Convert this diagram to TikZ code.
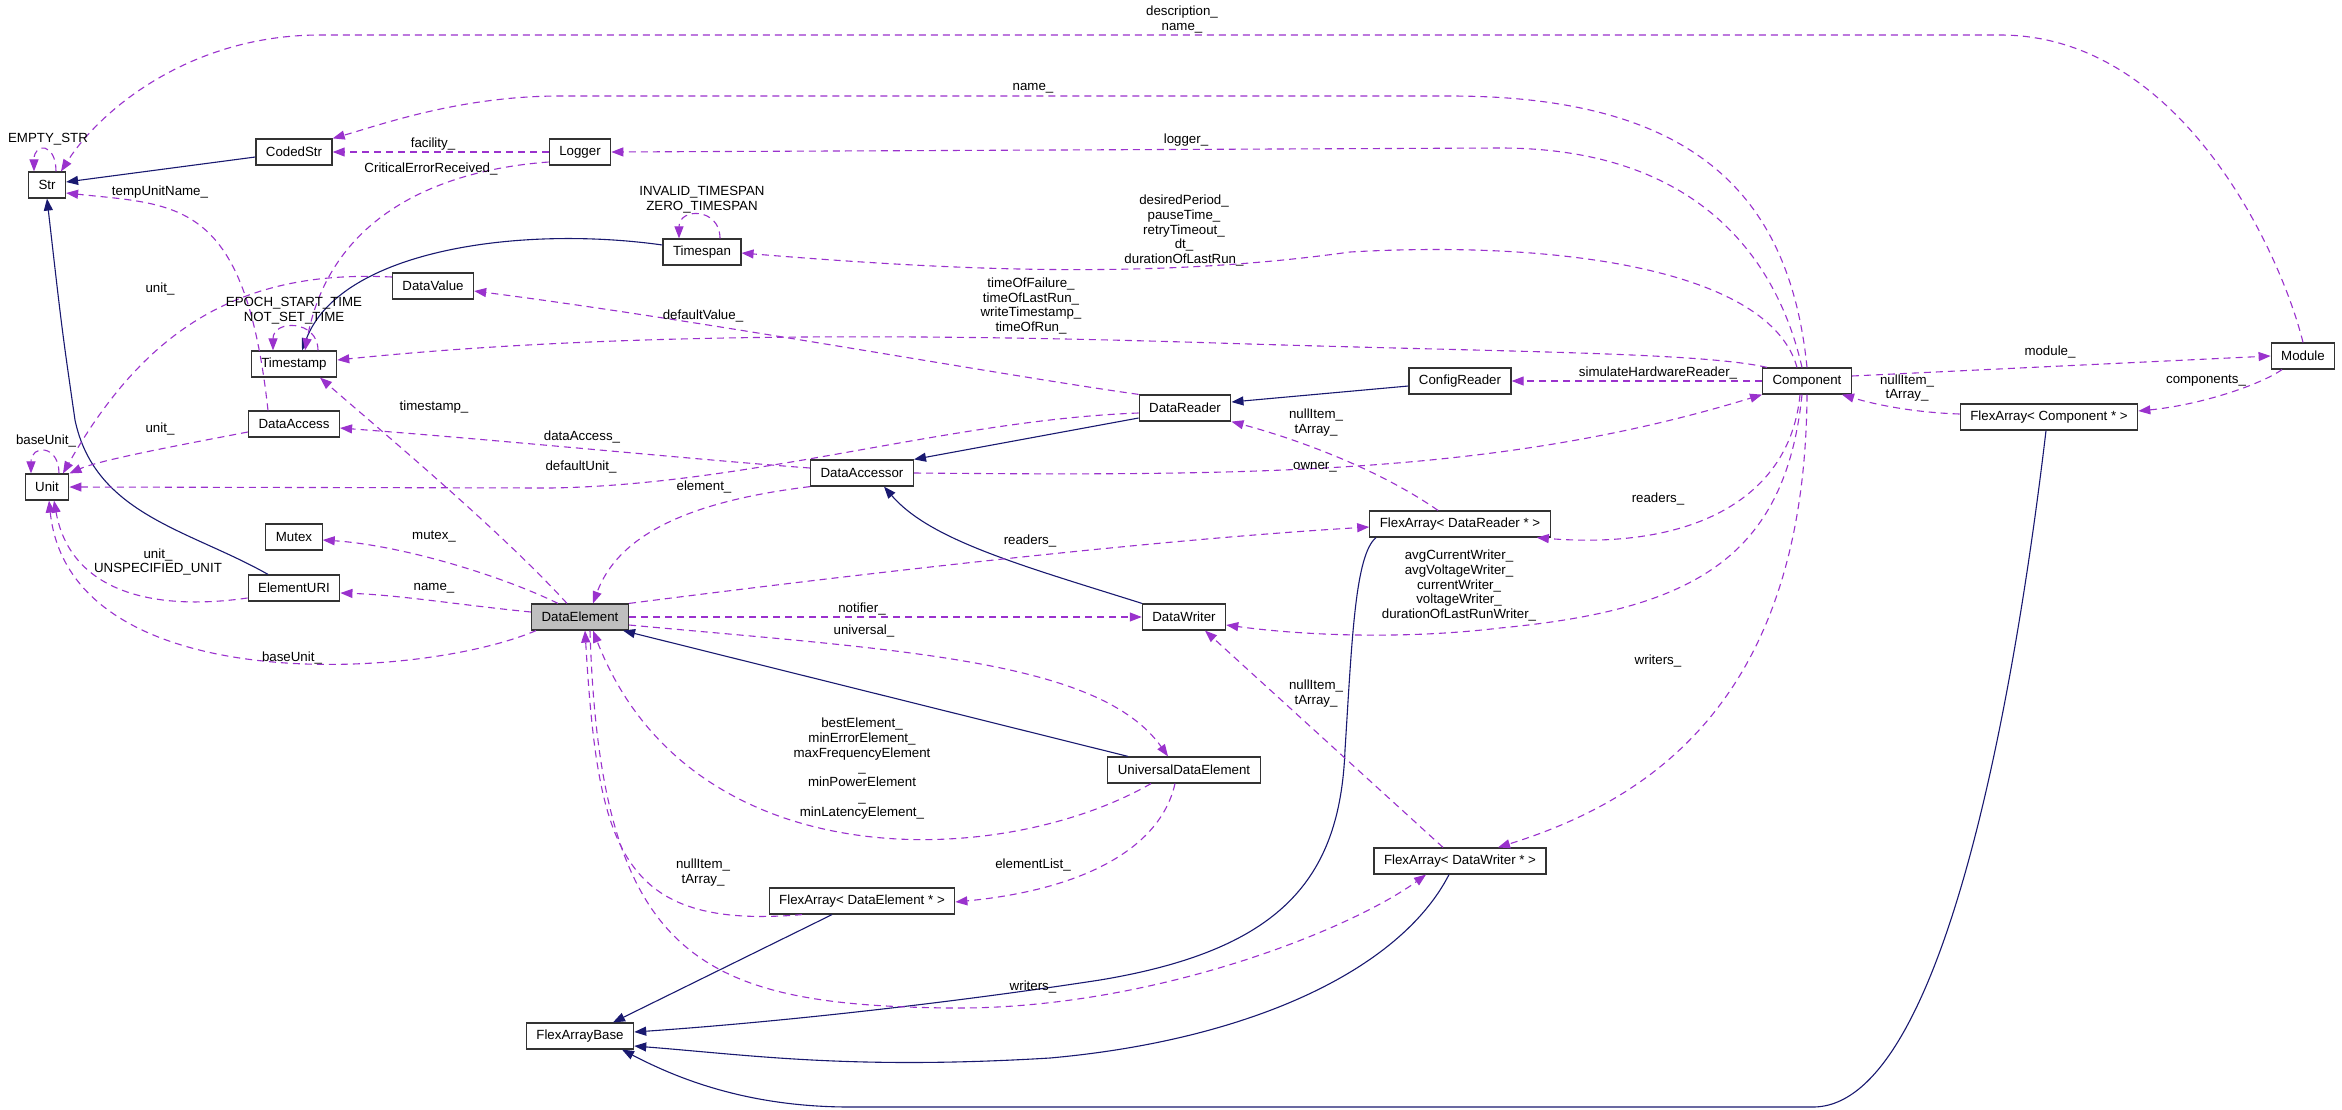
\documentclass[tikz,border=0pt]{standalone}
\usepackage{fontspec}
\setmainfont{Liberation Sans}
\usetikzlibrary{arrows.meta}
\definecolor{edgeblue}{HTML}{191970}
\definecolor{edgeorchid}{HTML}{9A32CD}
\tikzset{
  cls/.style = {draw=black!80, line width=1.2pt, fill=white, minimum height=26pt,
    inner xsep=10pt, inner ysep=0pt, font=\fontsize{13.3}{14.7}\selectfont},
  lbl/.style = {inner sep=0pt, align=center, font=\fontsize{13.3}{14.7}\selectfont},
  inherit/.style = {draw=edgeblue, line width=1.1pt, -{Triangle[length=12pt,width=9pt]}},
  uses/.style = {draw=edgeorchid, line width=1.1pt, dash pattern=on 7pt off 5pt,
    -{Triangle[length=12pt,width=9pt]}},
}
\begin{document}
\begin{tikzpicture}[x=1pt, y=-1pt]
	\useasboundingbox [fill = white] (0,0) rectangle (2342,1109);
	% classes
	\node [cls] (str) at (47,185) {Str};
	\node [cls] (codedstr) at (294,152) {CodedStr};
	\node [cls] (logger) at (580,152) {Logger};
	\node [cls] (timespan) at (702,252) {Timespan};
	\node [cls] (datavalue) at (433,286) {DataValue};
	\node [cls] (timestamp) at (294,364) {Timestamp};
	\node [cls] (dataaccess) at (294,424) {DataAccess};
	\node [cls] (unit) at (47,487) {Unit};
	\node [cls] (mutex) at (294,537) {Mutex};
	\node [cls] (elementuri) at (294,588) {ElementURI};
	\node [cls, fill = gray!50] (dataelement) at (580,617) {DataElement};
	\node [cls] (flexbase) at (580,1036) {FlexArrayBase};
	\node [cls] (datareader) at (1185,408) {DataReader};
	\node [cls] (dataaccessor) at (862,473) {DataAccessor};
	\node [cls] (datawriter) at (1184,617) {DataWriter};
	\node [cls] (ude) at (1184,770) {UniversalDataElement};
	\node [cls] (flexelem) at (862,901) {FlexArray< DataElement * >};
	\node [cls] (configreader) at (1460,381) {ConfigReader};
	\node [cls] (flexreader) at (1460,524) {FlexArray< DataReader * >};
	\node [cls] (flexwriter) at (1460,861) {FlexArray< DataWriter * >};
	\node [cls] (component) at (1807,381) {Component};
	\node [cls] (module) at (2303,356) {Module};
	\node [cls] (flexcomp) at (2049,417) {FlexArray< Component * >};
	% inheritance
	\draw [inherit] ([yshift=-5pt]codedstr.west) -- ([yshift=3pt]str.east);
	\draw [inherit] ([xshift=-26pt]elementuri.north) .. controls (190,530) and (95,515) .. (75,420) .. controls (62,330) .. (str.south);
	\draw [inherit] ([yshift=7pt]timespan.west) .. controls (520,225) and (340,250) .. ([xshift=8pt]timestamp.north);
	\draw [inherit] ([yshift=-5pt]configreader.west) -- ([yshift=6pt]datareader.east);
	\draw [inherit] ([yshift=-10pt]datareader.west) -- (dataaccessor.north east);
	\draw [inherit] ([xshift=-42pt]datawriter.north) .. controls (1020,565) and (930,540) .. ([xshift=22pt]dataaccessor.south);
	\draw [inherit] ([xshift=-56pt]ude.north) -- ([xshift=-6pt]dataelement.south east);
	\draw [inherit] ([xshift=-30pt]flexelem.south) -- ([xshift=33pt]flexbase.north);
	\draw [inherit] ([xshift=-84pt]flexreader.south) .. controls (1355,555) and (1352,640) .. (1345,750) .. controls (1340,880) and (1280,950) .. (1100,980) .. controls (950,1003) and (780,1022) .. ([yshift=4pt]flexbase.east);
	\draw [inherit] ([xshift=-11pt]flexwriter.south) .. controls (1400,970) and (1250,1040) .. (1050,1058) .. controls (850,1070) and (750,1055) .. ([yshift=-10pt]flexbase.east);
	\draw [inherit] ([xshift=-3pt]flexcomp.south) .. controls (2020,650) and (1950,1107) .. (1813,1107) -- (850,1107) .. controls (750,1107) and (680,1080) .. ([xshift=42pt]flexbase.south);
	% members
	\draw [uses] (module.north) .. controls (2280,250) and (2180,35) .. (2000,35) -- (320,35) .. controls (190,35) and (100,110) .. ([xshift=14pt]str.north);
	\draw [uses] ([xshift=9pt]str.north) .. controls +(0,-29) and +(0,-29) .. ([xshift=-13pt]str.north);
	\draw [uses] (component.north) .. controls (1790,200) and (1700,96) .. (1450,96) -- (560,96) .. controls (460,96) and (380,125) .. (codedstr.north east);
	\draw [uses] ([xshift=-5pt]component.north) .. controls (1775,250) and (1690,148) .. (1500,148) -- (logger.east);
	\draw [uses] (logger.west) -- (codedstr.east);
	\draw [uses] ([yshift=-10pt]logger.west) .. controls (440,170) and (330,215) .. ([xshift=11pt]timestamp.north);
	\draw [uses] ([xshift=24pt]timestamp.north) .. controls +(0,-31) and +(0,-31) .. ([xshift=-21pt]timestamp.north);
	\draw [uses] ([xshift=18pt]timespan.north) .. controls +(0,-31) and +(0,-31) .. ([xshift=-23pt]timespan.north);
	\draw [uses] ([xshift=-10pt]component.north) .. controls (1770,270) and (1560,240) .. (1350,252) .. controls (1150,280) and (950,270) .. ([yshift=-1pt]timespan.east);
	\draw [uses] ([xshift=-40pt]component.north) .. controls (1700,352) and (1500,352) .. (1217,343) .. controls (900,333) and (600,333) .. ([yshift=4pt]timestamp.east);
	\draw [uses] (component.west) -- (configreader.east);
	\draw [uses] ([yshift=5pt]component.east) -- (module.west);
	\draw [uses] ([xshift=-21pt]module.south) .. controls (2260,385) and (2200,405) .. ([yshift=6pt]flexcomp.east);
	\draw [uses] ([yshift=3pt]flexcomp.west) .. controls (1900,412) and (1860,400) .. ([xshift=-10pt]component.south east);
	\draw [uses] (dataaccessor.east) .. controls (1250,476) and (1500,475) .. (component.south west);
	\draw [uses] (datareader.north west) .. controls (1000,375) and (700,320) .. ([yshift=-5pt]datavalue.east);
	\draw [uses] ([yshift=-5pt]datareader.west) .. controls (950,420) and (750,485) .. (550,488) -- (unit.east);
	\draw [uses] ([yshift=5pt]dataaccessor.west) .. controls (700,460) and (500,440) .. ([yshift=-4pt]dataaccess.east);
	\draw [uses] (dataaccessor.south west) .. controls (700,500) and (620,530) .. ([xshift=13pt]dataelement.north);
	\draw [uses] ([xshift=-13pt]dataelement.north) .. controls (500,530) and (380,430) .. ([xshift=26pt]timestamp.south);
	\draw [uses] ([xshift=-22pt]dataelement.north) .. controls (500,575) and (400,545) .. ([yshift=-3pt]mutex.east);
	\draw [uses] ([yshift=5pt]dataelement.west) .. controls (460,605) and (400,595) .. ([yshift=-5pt]elementuri.east);
	\draw [uses] ([yshift=-10pt]elementuri.west) .. controls (150,612) and (70,590) .. ([xshift=7pt]unit.south);
	\draw [uses] ([xshift=-44pt]dataelement.south) .. controls (420,680) and (70,700) .. ([xshift=2pt]unit.south);
	\draw [uses] ([yshift=-8pt]dataaccess.west) .. controls (180,445) and (100,460) .. (unit.north east);
	\draw [uses] ([xshift=-26pt]dataaccess.north) .. controls (245,200) and (180,205) .. ([yshift=-8pt]str.east);
	\draw [uses] ([yshift=9pt]datavalue.west) .. controls (250,270) and (150,320) .. ([xshift=16pt]unit.north);
	\draw [uses] ([xshift=12pt]unit.north) .. controls +(0,-29) and +(0,-29) .. ([xshift=-16pt]unit.north);
	\draw [uses] (dataelement.north east) .. controls (850,575) and (1150,540) .. ([yshift=-3pt]flexreader.west);
	\draw [uses] ([xshift=-7pt]component.south) .. controls (1790,500) and (1690,550) .. ([xshift=-14pt]flexreader.south east);
	\draw [uses] ([xshift=-5pt]component.south) .. controls (1785,560) and (1690,610) .. (1500,628) .. controls (1400,640) and (1300,635) .. ([yshift=-8pt]datawriter.east);
	\draw [uses] (component.south) .. controls (1805,700) and (1650,800) .. ([xshift=38pt]flexwriter.north);
	\draw [uses] (dataelement.east) -- (datawriter.west);
	\draw [uses] ([yshift=-8pt]dataelement.east) .. controls (900,650) and (1100,660) .. ([xshift=-16pt]ude.north);
	\draw [uses] ([xshift=-33pt]ude.south) .. controls (1000,870) and (690,880) .. ([xshift=13pt]dataelement.south);
	\draw [uses] ([xshift=-9pt]ude.south) .. controls (1160,850) and (1080,890) .. ([yshift=-1pt]flexelem.east);
	\draw [uses] ([xshift=-60pt]flexelem.south) .. controls (620,930) and (598,850) .. ([xshift=5pt]dataelement.south);
	\draw [uses] ([xshift=10pt]dataelement.south) .. controls (600,960) and (700,1005) .. (950,1008) .. controls (1150,1010) and (1350,930) .. ([xshift=-34pt]flexwriter.south);
	\draw [uses] ([xshift=-17pt]flexwriter.north) -- ([xshift=21pt]datawriter.south);
	\draw [uses] ([xshift=-22pt]flexreader.north) .. controls (1380,470) and (1300,440) .. (datareader.south east);
	% member labels
	\node [lbl] (lbldesc) at (1182,19.5) {description\_\\name\_};
	\node [lbl] (lblempty) at (48,139) {EMPTY\_STR};
	\node [lbl] (lblname) at (1033,88) {name\_};
	\node [lbl] (lbllogger) at (1186,140) {logger\_};
	\node [lbl] (lblfacility) at (433,144) {facility\_};
	\node [lbl] (lblcritical) at (431,169) {CriticalErrorReceived\_};
	\node [lbl] (lbltempunit) at (160,192) {tempUnitName\_};
	\node [lbl] (lblinvalid) at (702,199.5) {INVALID\_TIMESPAN\\ZERO\_TIMESPAN};
	\node [lbl] (lblperiod) at (1184,230.5) {desiredPeriod\_\\pauseTime\_\\retryTimeout\_\\dt\_\\durationOfLastRun\_};
	\node [lbl] (lblfailure) at (1031,306) {timeOfFailure\_\\timeOfLastRun\_\\writeTimestamp\_\\timeOfRun\_};
	\node [lbl] (lblunitval) at (160,289) {unit\_};
	\node [lbl] (lblepoch) at (294,310.5) {EPOCH\_START\_TIME\\NOT\_SET\_TIME};
	\node [lbl] (lbldefval) at (703,316) {defaultValue\_};
	\node [lbl] (lblsimulate) at (1658,373) {simulateHardwareReader\_};
	\node [lbl] (lblmodule) at (2050,352) {module\_};
	\node [lbl] (lblnullcomp) at (1907,388) {nullItem\_\\tArray\_};
	\node [lbl] (lblcomponents) at (2206,381) {components\_};
	\node [lbl] (lbltimestamp) at (434,407) {timestamp\_};
	\node [lbl] (lblunitacc) at (160,429) {unit\_};
	\node [lbl] (lblbaseself) at (46,441) {baseUnit\_};
	\node [lbl] (lbldataacc) at (582,437) {dataAccess\_};
	\node [lbl] (lbldefunit) at (581,467) {defaultUnit\_};
	\node [lbl] (lblnullreader) at (1316,422.5) {nullItem\_\\tArray\_};
	\node [lbl] (lblowner) at (1315,467) {owner\_};
	\node [lbl] (lblelement) at (704,487) {element\_};
	\node [lbl] (lblreaderscomp) at (1658,499) {readers\_};
	\node [lbl] (lblreaders) at (1030,541) {readers\_};
	\node [lbl] (lblmutex) at (434,537) {mutex\_};
	\node [lbl] (lblunituri) at (158,562) {unit\_\\UNSPECIFIED\_UNIT};
	\node [lbl] (lblavg) at (1459,585.5) {avgCurrentWriter\_\\avgVoltageWriter\_\\currentWriter\_\\voltageWriter\_\\durationOfLastRunWriter\_};
	\node [lbl] (lblnameuri) at (434,588) {name\_};
	\node [lbl] (lblnotifier) at (862,609) {notifier\_};
	\node [lbl] (lbluniversal) at (864,631) {universal\_};
	\node [lbl] (lblbaseunit) at (292,658) {baseUnit\_};
	\node [lbl] (lblwriterscomp) at (1658,661) {writers\_};
	\node [lbl] (lblnullwriter) at (1316,693.5) {nullItem\_\\tArray\_};
	\node [lbl] (lblbest) at (862,768.5) {bestElement\_\\minErrorElement\_\\maxFrequencyElement\\\_\\minPowerElement\\\_\\minLatencyElement\_};
	\node [lbl] (lbllist) at (1033,865) {elementList\_};
	\node [lbl] (lblnullelem) at (703,872.5) {nullItem\_\\tArray\_};
	\node [lbl] (lblwriters) at (1033,987) {writers\_};
\end{tikzpicture}
\end{document}
